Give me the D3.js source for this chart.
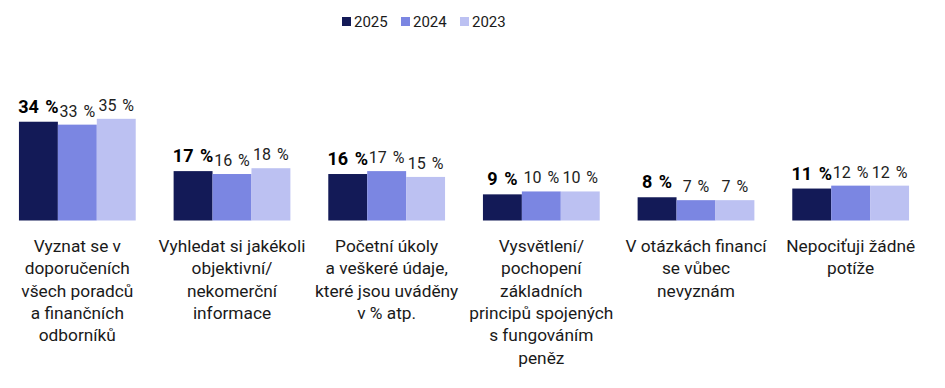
<!DOCTYPE html>
<html>
<head>
<meta charset="utf-8">
<script src="https://cdn.jsdelivr.net/npm/d3@7"></script>
<style>
  body { margin: 0; background: #fff; }
  svg { display: block; font-family: Roboto, "Noto Sans", sans-serif; }
</style>
</head>
<body>
<div id="chart"></div>
<script>
const categories = [
  ['Vyznat se v', 'doporučeních', 'všech poradců', 'a finančních', 'odborníků'],
  ['Vyhledat si jakékoli', 'objektivní/', 'nekomerční', 'informace'],
  ['Početní úkoly', 'a veškeré údaje,', 'které jsou uváděny', 'v % atp.'],
  ['Vysvětlení/', 'pochopení', 'základních', 'principů spojených', 's fungováním', 'peněz'],
  ['V otázkách financí', 'se vůbec', 'nevyznám'],
  ['Nepociťuji žádné', 'potíže']
];
const years = ['2025', '2024', '2023'];
const values2025 = [34, 17, 16, 9, 8, 11];
const values2024 = [33, 16, 17, 10, 7, 12];
const values2023 = [35, 18, 15, 10, 7, 12];
const colors = ['#131a57', '#7b86e2', '#bcc1f2'];

const width = 945, height = 388;
const baseline = 220.5;

const svg = d3.select('#chart')
  .append('svg')
  .attr('width', width)
  .attr('height', height);

// One row per category, built from the series arrays
const rows = categories.map((c, i) => ({
  idx: i,
  vals: [values2025[i], values2024[i], values2023[i]]
}));

const x0 = d3.scaleBand()
  .domain(d3.range(categories.length))
  .range([0, 928])
  .paddingInner(0.245)
  .paddingOuter(0.1225);

const x1 = d3.scaleBand()
  .domain(years)
  .range([0, x0.bandwidth()]);

const y = d3.scaleLinear()
  .domain([0, 100])
  .range([baseline, baseline - 290.5]);

const groups = svg.append('g')
  .selectAll('g')
  .data(rows)
  .join('g')
    .attr('transform', d => `translate(${x0(d.idx)},0)`);

groups.selectAll('rect')
  .data(d => d.vals.map((v, j) => ({ year: years[j], v, j })))
  .join('rect')
    .attr('x', d => x1(d.year))
    .attr('y', d => y(d.v))
    .attr('width', x1.bandwidth())
    .attr('height', d => baseline - y(d.v))
    .attr('fill', d => colors[d.j]);

groups.selectAll('text.val')
  .data(d => d.vals.map((v, j) => ({ year: years[j], v, j })))
  .join('text')
    .attr('class', 'val')
    .attr('x', d => x1(d.year) + x1.bandwidth() / 2)
    .attr('y', d => y(d.v) - (d.j === 0 ? 9 : 8))
    .attr('text-anchor', 'middle')
    .attr('font-size', d => d.j === 0 ? 18 : 16)
    .attr('font-weight', d => d.j === 0 ? 700 : 400)
    .attr('fill', d => d.j === 0 ? '#000' : '#222')
    .style('word-spacing', '2px')
    .text(d => d.v + ' %');

// Category labels under each group
const labels = svg.append('g')
  .selectAll('text')
  .data(rows)
  .join('text')
    .attr('x', d => x0(d.idx) + x0.bandwidth() / 2)
    .attr('y', 252)
    .attr('text-anchor', 'middle')
    .attr('font-size', 17.3)
    .attr('fill', '#1a1a1a');

labels.selectAll('tspan')
  .data(d => categories[d.idx])
  .join('tspan')
    .attr('x', function() { return this.parentNode.getAttribute('x'); })
    .attr('dy', (d, i) => i === 0 ? 0 : 22.3)
    .text(d => d);

// Legend
const legend = svg.append('g')
  .attr('transform', 'translate(342,0)');

const item = legend.selectAll('g')
  .data(years)
  .join('g')
    .attr('transform', (d, i) => `translate(${i * 59},0)`);

item.append('rect')
  .attr('y', 17)
  .attr('width', 9)
  .attr('height', 9)
  .attr('fill', (d, i) => colors[i]);

item.append('text')
  .attr('x', 12)
  .attr('y', 27)
  .attr('font-size', 15)
  .attr('fill', '#1a1a1a')
  .text(d => d);
</script>
</body>
</html>
